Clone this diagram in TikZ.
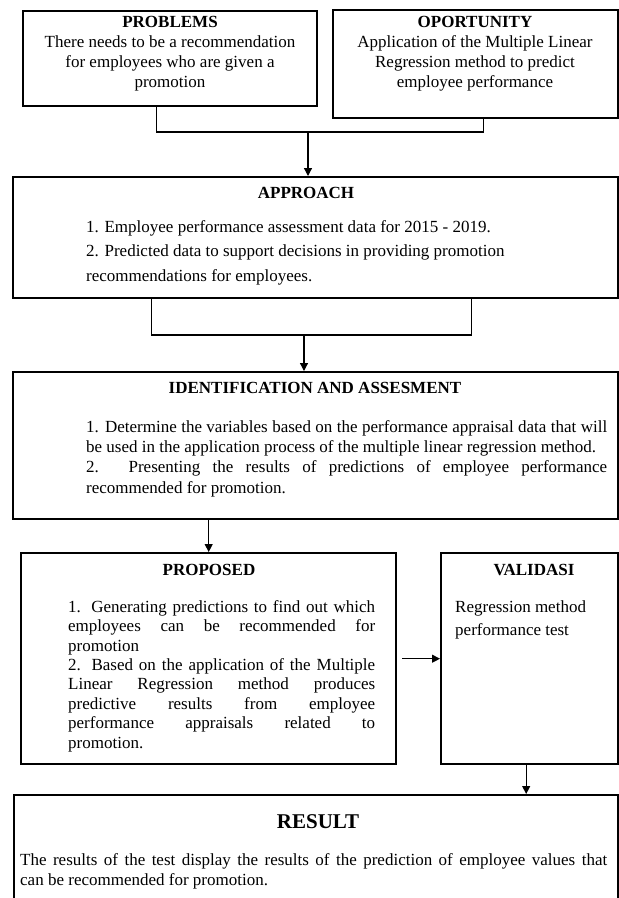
\documentclass[tikz,border=0pt]{standalone}
\usepackage{fontspec}
\setmainfont{Liberation Serif}
\usetikzlibrary{arrows.meta}
\begin{document}
\begin{tikzpicture}[x=1pt,y=-1pt,
  box/.style={draw=black, line width=2.4pt, rectangle, inner sep=0pt, anchor=north west},
  conn/.style={draw=black, line width=1.2pt},
  arr/.style={conn, -{Triangle[length=8pt,width=8pt]}},
  ttl/.style={inner sep=0pt, anchor=base, font=\fontsize{17}{19.4}\selectfont\bfseries},
  body/.style={inner sep=0pt, anchor=north west, align=left},
  cbody/.style={inner sep=0pt, anchor=north, align=center, font=\fontsize{17}{20}\selectfont},
]
\useasboundingbox (0,0) rectangle (619,898);
\clip (0,0) rectangle (619,898);

% boxes
\node[box, minimum width=294pt, minimum height=95pt] (prob) at (22,10) {};
\node[box, minimum width=285pt, minimum height=108pt] (opp) at (332,9) {};
\node[box, minimum width=605pt, minimum height=121pt] (app) at (12,176) {};
\node[box, minimum width=605pt, minimum height=147pt] (idn) at (12,371) {};
\node[box, minimum width=375pt, minimum height=211pt] (pro) at (20,552) {};
\node[box, minimum width=177pt, minimum height=211pt] (val) at (440,552) {};
\node[box, minimum width=604pt, minimum height=150pt] (res) at (13,794) {};

% titles
\node[ttl] (probT) at (170,27) {PROBLEMS};
\node[ttl] (oppT) at (475,27) {OPORTUNITY};
\node[ttl] (appT) at (306,198) {APPROACH};
\node[ttl] (idnT) at (315,393) {IDENTIFICATION AND ASSESMENT};
\node[ttl] (proT) at (209,575) {PROPOSED};
\node[ttl] (valT) at (534,575) {VALIDASI};
\node[ttl, font=\fontsize{21}{24}\selectfont\bfseries] (resT) at (318,828) {RESULT};

% texts
\node[cbody] (probB) at (170,34) {\rule{0pt}{13pt}There needs to be a recommendation\\ for employees who are given a\\ promotion};
\node[cbody] (oppB) at (475,34) {\rule{0pt}{13pt}Application of the Multiple Linear\\ Regression method to predict\\ employee performance};
\node[body, font=\fontsize{17}{24.5}\selectfont] (appB) at (86,219) {\rule{0pt}{13pt}1. Employee performance assessment data for 2015 - 2019.\\ 2. Predicted data to support decisions in providing promotion\\ recommendations for employees.};
\node[body, font=\fontsize{17}{20.3}\selectfont] (idnB) at (86,419) {\rule{0pt}{13pt}\makebox[521pt][s]{1. Determine the variables based on the performance appraisal data that will}\\ be used in the application process of the multiple linear regression method.\\ \makebox[521pt][s]{2. Presenting the results of predictions of employee performance}\\ recommended for promotion.};
\node[body, font=\fontsize{17}{19.4}\selectfont] (proB) at (68,599) {\rule{0pt}{13pt}\makebox[307pt][s]{1. Generating predictions to find out which}\\ \makebox[307pt][s]{employees can be recommended for}\\ promotion\\ \makebox[307pt][s]{2. Based on the application of the Multiple}\\ \makebox[307pt][s]{Linear Regression method produces}\\ \makebox[307pt][s]{predictive results from employee}\\ \makebox[307pt][s]{performance appraisals related to}\\ promotion.};
\node[body, font=\fontsize{17}{23.3}\selectfont] (valB) at (455,599) {\rule{0pt}{13pt}Regression method\\ performance test};
\node[body, font=\fontsize{17}{20}\selectfont] (resB) at (20,852) {\rule{0pt}{13pt}\makebox[587pt][s]{The results of the test display the results of the prediction of employee values that}\\ can be recommended for promotion.};

% connectors
\coordinate (jA) at (308,132);
\coordinate (jB) at (304,335);
\draw[conn] ([xshift=-14pt]prob.south) |- (jA) -| ([xshift=7.5pt]opp.south);
\draw[arr] (jA) -- (jA |- app.north);
\draw[conn] ([xshift=-164.5pt]app.south) |- (jB) -| ([xshift=155.5pt]app.south);
\draw[arr] (jB) -- (jB |- idn.north);
\draw[arr] (idn.south -| pro.north) -- (pro.north);
\draw[arr] ([xshift=5pt]pro.east) -- (val.west);
\draw[arr] ([xshift=-3.5pt]val.south) -- ([xshift=-3.5pt]val.south |- res.north);
\end{tikzpicture}
\end{document}
